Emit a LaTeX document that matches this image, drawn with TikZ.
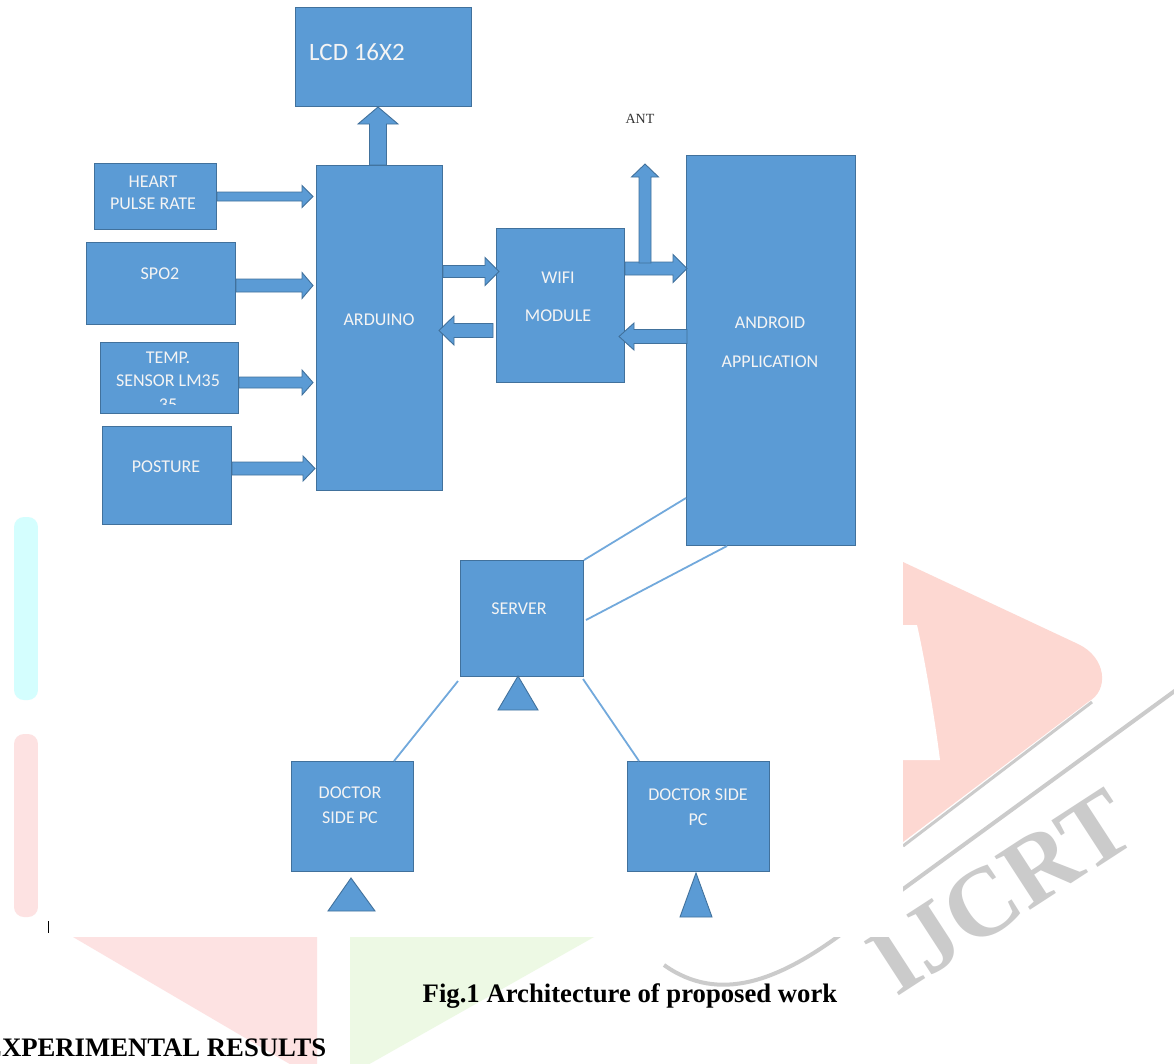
\documentclass[tikz,border=0pt]{standalone}
\usepackage{fontspec}
\setmainfont{Liberation Serif}
\newfontfamily\lblfont{Carlito}
\usetikzlibrary{calc}
\definecolor{boxfill}{HTML}{5B9BD5}
\definecolor{boxedge}{HTML}{41719C}
\definecolor{linkcol}{HTML}{72A9DC}
\definecolor{lbltext}{HTML}{F4F4F4}
\definecolor{wmpink}{HTML}{FDE2E2}
\definecolor{wmpinkd}{HTML}{FDD8D2}
\definecolor{wmcyan}{HTML}{D4FEFE}
\definecolor{wmgreen}{HTML}{EDF9E4}
\definecolor{wmgray}{HTML}{CBCBCB}
\tikzset{
  blk/.style={draw=boxedge, fill=boxfill, line width=1pt, inner sep=0pt, anchor=north west},
  barrow/.style={draw=boxedge, fill=boxfill, line width=0.9pt, line join=miter},
  link/.style={draw=linkcol, line width=1.8pt},
  lbl/.style={text=lbltext, inner sep=0pt, font=\lblfont\fontsize{18}{18}\selectfont},
  tri/.style={draw=boxedge, fill=boxfill, line width=0.9pt},
}
\newcommand\harrow[5]{%
  \path[barrow] let \p1=#1, \p2=#2, \n1={ifthenelse(\x2>\x1,1,-1)} in
    (\x1,\y1+#3) -- (\x2-\n1*#5,\y1+#3) -- (\x2-\n1*#5,\y1+#4) -- (\x2,\y1)
    -- (\x2-\n1*#5,\y1-#4) -- (\x2-\n1*#5,\y1-#3) -- (\x1,\y1-#3) -- cycle;}
\newcommand\varrow[5]{%
  \path[barrow] let \p1=#1, \p2=#2, \n1={ifthenelse(\y2>\y1,1,-1)} in
    (\x1+#3,\y1) -- (\x1+#3,\y2-\n1*#5) -- (\x1+#4,\y2-\n1*#5) -- (\x1,\y2)
    -- (\x1-#4,\y2-\n1*#5) -- (\x1-#3,\y2-\n1*#5) -- (\x1-#3,\y1) -- cycle;}
\begin{document}
\begin{tikzpicture}[x=1pt,y=-1pt]
\useasboundingbox (0,0) rectangle (1174,1063);
\fill[white] (0,0) rectangle (1174,1063);

% ---- background watermark ----
\fill[wmcyan, rounded corners=10pt] (38,517) -- (14,517) -- (14,700) -- (38,700) -- cycle;
\fill[wmpink, rounded corners=10pt] (38,734) -- (14,734) -- (14,917) -- (38,917) -- cycle;
\fill[wmpink] (73,937) -- (317,937) -- (317,1080) -- cycle;
\fill[wmgreen] (350,937) -- (594,937) -- (350,1075) -- cycle;
\draw[wmgray, line width=3pt] (1092,702) -- (903,846);
\fill[wmpinkd] (903,562) -- (1078,644) .. controls (1106,657) and (1110,690) .. (1088,702) -- (903,842) -- cycle;
\fill[white] (903,625) -- (917,625) .. controls (925,660) and (935,720) .. (940,760) -- (903,760) -- cycle;
\draw[wmgray, line width=4pt] (1176,690) -- (836,938) .. controls (780,978) and (720,1005) .. (664,965);
\node[text=wmgray, rotate=33, inner sep=0pt, font=\bfseries\fontsize{98}{98}\selectfont] (wm) at (1001,892) {IJCRT};
\fill[white] (38,0) rectangle (903,937);

% ---- blocks ----
\node[blk, minimum width=176pt, minimum height=99pt] (lcd) at (295,7) {};
\node[blk, minimum width=122pt, minimum height=66pt] (heart) at (94,163) {};
\node[blk, minimum width=149pt, minimum height=82pt] (spo) at (86,242) {};
\node[blk, minimum width=138pt, minimum height=71pt] (temp) at (100,342) {};
\node[blk, minimum width=129pt, minimum height=98pt] (posture) at (102,426) {};
\node[blk, minimum width=126pt, minimum height=325pt] (ard) at (316,165) {};
\node[blk, minimum width=128pt, minimum height=154pt] (wifi) at (496,228) {};
\node[blk, minimum width=169pt, minimum height=390pt] (android) at (686,155) {};
\node[blk, minimum width=123pt, minimum height=116pt] (server) at (460,560) {};
\node[blk, minimum width=122pt, minimum height=110pt] (doc1) at (291,761) {};
\node[blk, minimum width=142pt, minimum height=110pt] (doc2) at (627,761) {};

% ---- labels ----
\node[lbl, anchor=west, font=\lblfont\fontsize{25}{25}\selectfont] (tlcd) at (309,52) {LCD 16X2};
\node[lbl] (theart1) at (153,182) {HEART};
\node[lbl] (theart2) at (153,204) {PULSE RATE};
\node[lbl] (tspo) at (160,274) {SPO2};
\node[lbl] (ttemp1) at (168,358) {TEMP.};
\node[lbl] (ttemp2) at (168,381) {SENSOR LM35};
\begin{scope}
  \clip (temp.north west) rectangle ($(temp.south east)+(0,-10)$);
  \node[lbl] (ttemp3) at (168,405) {35};
\end{scope}
\node[lbl] (tpost) at (166,467) {POSTURE};
\node[lbl] (tard) at (379,320) {ARDUINO};
\node[lbl] (twifi1) at (558,278) {WIFI};
\node[lbl] (twifi2) at (558,316) {MODULE};
\node[lbl] (tand1) at (770,323) {ANDROID};
\node[lbl] (tand2) at (770,362) {APPLICATION};
\node[lbl] (tserv) at (519,609) {SERVER};
\node[lbl] (tdoc1a) at (350,793) {DOCTOR};
\node[lbl] (tdoc1b) at (350,818) {SIDE PC};
\node[lbl] (tdoc2a) at (698,795) {DOCTOR SIDE};
\node[lbl] (tdoc2b) at (698,820) {PC};
\node[inner sep=0pt, text=black!80, font=\fontsize{14}{14}\selectfont] (ant) at (640,119) {ANT};

% ---- block arrows ----
\harrow{(heart.east)}{($(ard.west)+(-3,0)$)}{4.5pt}{11pt}{11pt}
\harrow{($(spo.east)+(0,2)$)}{($(ard.west)+(-3,0)$)}{6.5pt}{13pt}{11pt}
\harrow{($(temp.east)+(0,4.5)$)}{($(ard.west)+(-3,0)$)}{5.5pt}{12.5pt}{11pt}
\harrow{($(posture.east)+(0,-7)$)}{($(ard.west)+(-1,0)$)}{6.5pt}{12.5pt}{12pt}
\harrow{($(ard.east)+(0,-56.5)$)}{($(wifi.west)+(3,0)$)}{6pt}{14pt}{14pt}
\harrow{($(wifi.west)+(-3,25)$)}{($(ard.east)+(-4,0)$)}{7pt}{14.5pt}{15pt}
\harrow{($(wifi.east)+(0,-37)$)}{($(android.west)+(1,0)$)}{6.5pt}{14pt}{14pt}
\harrow{($(android.west)+(1,-14)$)}{($(wifi.east)+(-6,0)$)}{7pt}{13.5pt}{15pt}
\varrow{($(wifi.north east)+(20,35)$)}{($(ant)+(4,45)$)}{6pt}{13.5pt}{13pt}
\varrow{($(ard.north)+(-1.5,0)$)}{(lcd.south)}{8.5pt}{20pt}{17pt}

% ---- links ----
\draw[link] ($(android.south west)+(0,-48)$) -- (server.north east);
\draw[link] ($(android.south west)+(41,0)$) -- ($(server.north east)+(2,60)$);
\draw[link] ($(server.south west)+(-2,4)$) -- ($(doc1.north west)+(103,0)$);
\draw[link] ($(server.south east)+(-1,2)$) -- ($(doc2.north west)+(12,0)$);

% ---- triangles ----
\draw[tri] (518,676) -- (538,710) -- (498,710) -- cycle;
\draw[tri] (351,878) -- (375,911) -- (328,911) -- cycle;
\draw[tri] (696,873) -- (712,917) -- (680,917) -- cycle;

% ---- text below ----
\draw[black, line width=1pt] (48.5,921) -- (48.5,933);
\node[anchor=base, inner sep=0pt, font=\bfseries\fontsize{26.7}{26.7}\selectfont] (cap) at (630,1002) {Fig.1 Architecture of proposed work};
\node[anchor=base west, inner sep=0pt, font=\bfseries\fontsize{26.7}{26.7}\selectfont] (head) at (-16,1056) {EXPERIMENTAL RESULTS};
\end{tikzpicture}
\end{document}
